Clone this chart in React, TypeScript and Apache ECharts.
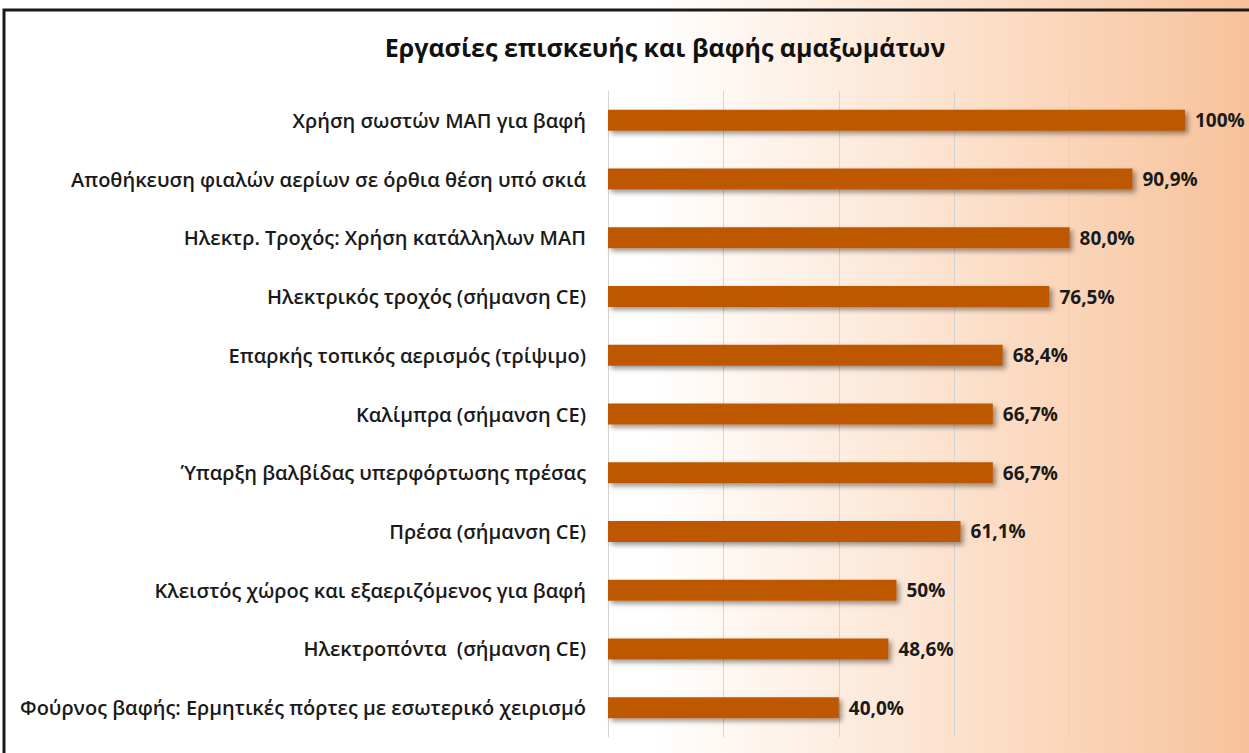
import React, { useEffect, useRef } from "react";
import * as echarts from "echarts";

const title = "Εργασίες επισκευής και βαφής αμαξωμάτων";
const categories = [
  "Χρήση σωστών ΜΑΠ για βαφή",
  "Αποθήκευση φιαλών αερίων σε όρθια θέση υπό σκιά",
  "Ηλεκτρ. Τροχός: Χρήση κατάλληλων ΜΑΠ",
  "Ηλεκτρικός τροχός (σήμανση CE)",
  "Επαρκής τοπικός αερισμός (τρίψιμο)",
  "Καλίμπρα (σήμανση CE)",
  "Ύπαρξη βαλβίδας υπερφόρτωσης πρέσας",
  "Πρέσα (σήμανση CE)",
  "Κλειστός χώρος και εξαεριζόμενος για βαφή",
  "Ηλεκτροπόντα  (σήμανση CE)",
  "Φούρνος βαφής: Ερμητικές πόρτες με εσωτερικό χειρισμό",
];
const values = [100, 90.9, 80.0, 76.5, 68.4, 66.7, 66.7, 61.1, 50, 48.6, 40.0];
const valueLabels = ["100%", "90,9%", "80,0%", "76,5%", "68,4%", "66,7%", "66,7%", "61,1%", "50%", "48,6%", "40,0%"];

export default function App() {
  const ref = useRef<HTMLDivElement>(null);
  useEffect(() => {
    document.body.style.margin = "0";
    const chart = echarts.init(ref.current!, null, { renderer: "svg" });
    chart.setOption({
      animation: false,
      graphic: [
        {
          type: "rect",
          z: -10,
          silent: true,
          shape: { x: 0, y: 0, width: 1249, height: 753 },
          style: {
            fill: new echarts.graphic.LinearGradient(0, 0, 1, 0, [
              { offset: 0, color: "#ffffff" },
              { offset: 0.52, color: "#ffffff" },
              { offset: 0.76, color: "#fce2ce" },
              { offset: 1, color: "#f7c29a" },
            ]),
          },
        },
        {
          type: "rect",
          z: 100,
          silent: true,
          shape: { x: 4, y: 10, width: 1300, height: 800 },
          style: { fill: "none", stroke: "#1a1a1a", lineWidth: 3 },
        },
      ],
      title: {
        text: title,
        left: 660,
        top: 29,
        textAlign: "center",
        textStyle: { fontFamily: "Open Sans", fontSize: 25, fontWeight: "bold", color: "#111" },
      },
      grid: { left: 608, right: 64, top: 91, bottom: 16 },
      xAxis: {
        type: "value",
        min: 0,
        max: 100,
        interval: 20,
        axisLabel: { show: false },
        axisLine: { show: false },
        axisTick: { show: false },
        splitLine: { show: true, lineStyle: { color: "#d4d4d4", width: 1 } },
      },
      yAxis: {
        type: "category",
        inverse: true,
        data: categories,
        axisLine: { show: true, lineStyle: { color: "#d4d4d4" } },
        axisTick: { show: false },
        axisLabel: {
          margin: 22,
          fontFamily: "Open Sans",
          fontSize: 20,
          fontWeight: 600,
          color: "#1a1a1a",
        },
      },
      series: [
        {
          type: "bar",
          data: values,
          barWidth: 21,
          itemStyle: {
            color: "#bd5906",
            shadowColor: "rgba(0,0,0,0.4)",
            shadowBlur: 5,
            shadowOffsetX: 3,
            shadowOffsetY: 3,
          },
          label: {
            show: true,
            position: "right",
            distance: 10,
            fontFamily: "Open Sans",
            fontSize: 19,
            fontWeight: "bold",
            color: "#1a1a1a",
            formatter: (p: any) => valueLabels[p.dataIndex],
          },
        },
      ],
    });
    return () => chart.dispose();
  }, []);
  return <div ref={ref} style={{ width: 1249, height: 753 }} />;
}
